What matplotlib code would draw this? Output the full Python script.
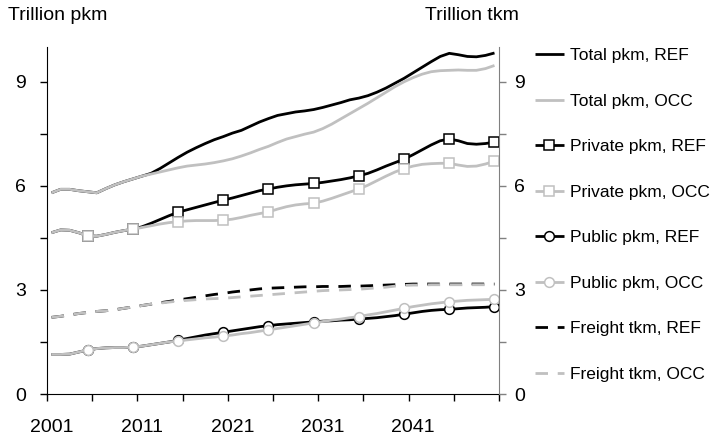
import numpy as np
import matplotlib
matplotlib.use("Agg")
import matplotlib.pyplot as plt
from matplotlib.ticker import MultipleLocator, FixedLocator

plt.rcParams["font.family"] = ["Liberation Sans", "DejaVu Sans"]

# =========================
# Data
# =========================
years = list(range(2001, 2051))

total_ref = [5.80, 5.90, 5.90, 5.86, 5.83, 5.80, 5.92, 6.03, 6.12, 6.20,
             6.28, 6.36, 6.50, 6.66, 6.82, 6.97, 7.10, 7.22, 7.33, 7.42,
             7.52, 7.60, 7.72, 7.84, 7.94, 8.03, 8.08, 8.13, 8.16, 8.20,
             8.26, 8.33, 8.40, 8.48, 8.53, 8.60, 8.70, 8.82, 8.96, 9.10,
             9.26, 9.42, 9.58, 9.73, 9.82, 9.78, 9.73, 9.72, 9.76, 9.83]
total_occ = [5.80, 5.90, 5.90, 5.86, 5.83, 5.80, 5.92, 6.03, 6.12, 6.20,
             6.28, 6.34, 6.40, 6.46, 6.52, 6.57, 6.60, 6.63, 6.67, 6.72,
             6.78, 6.86, 6.95, 7.05, 7.14, 7.25, 7.35, 7.42, 7.49, 7.55,
             7.65, 7.78, 7.93, 8.08, 8.23, 8.38, 8.54, 8.70, 8.86, 9.00,
             9.12, 9.22, 9.29, 9.32, 9.33, 9.34, 9.33, 9.33, 9.38, 9.47]

private_ref = [4.65, 4.73, 4.72, 4.65, 4.56, 4.55, 4.60, 4.66, 4.71, 4.75,
               4.82, 4.92, 5.03, 5.14, 5.24, 5.31, 5.38, 5.45, 5.52, 5.59,
               5.65, 5.72, 5.79, 5.86, 5.91, 5.96, 6.00, 6.03, 6.05, 6.07,
               6.10, 6.14, 6.18, 6.23, 6.29, 6.36, 6.46, 6.57, 6.67, 6.77,
               6.90, 7.04, 7.18, 7.30, 7.35, 7.30, 7.22, 7.20, 7.22, 7.26]
private_occ = [4.65, 4.73, 4.72, 4.65, 4.56, 4.55, 4.60, 4.66, 4.71, 4.75,
               4.80, 4.85, 4.90, 4.94, 4.97, 4.99, 5.00, 5.00, 5.00, 5.01,
               5.04, 5.09, 5.15, 5.20, 5.25, 5.33, 5.40, 5.45, 5.48, 5.50,
               5.56, 5.64, 5.73, 5.82, 5.91, 6.02, 6.15, 6.28, 6.40, 6.50,
               6.57, 6.62, 6.64, 6.65, 6.65, 6.60, 6.56, 6.57, 6.63, 6.71]

public_ref = [1.14, 1.14, 1.15, 1.21, 1.27, 1.31, 1.33, 1.34, 1.34, 1.35,
              1.38, 1.42, 1.46, 1.50, 1.55, 1.60, 1.65, 1.70, 1.74, 1.78,
              1.82, 1.86, 1.90, 1.94, 1.97, 2.00, 2.02, 2.04, 2.06, 2.08,
              2.10, 2.11, 2.13, 2.14, 2.16, 2.18, 2.20, 2.23, 2.26, 2.30,
              2.34, 2.38, 2.41, 2.43, 2.44, 2.46, 2.48, 2.49, 2.50, 2.52]
public_occ = [1.14, 1.14, 1.15, 1.21, 1.27, 1.31, 1.33, 1.34, 1.34, 1.35,
              1.38, 1.42, 1.46, 1.50, 1.53, 1.56, 1.59, 1.62, 1.64, 1.67,
              1.70, 1.74, 1.77, 1.81, 1.85, 1.89, 1.93, 1.97, 2.01, 2.05,
              2.09, 2.13, 2.16, 2.20, 2.23, 2.28, 2.32, 2.37, 2.42, 2.47,
              2.52, 2.56, 2.60, 2.63, 2.66, 2.68, 2.70, 2.71, 2.72, 2.73]

freight_ref = [2.21, 2.24, 2.28, 2.32, 2.35, 2.38, 2.40, 2.43, 2.47, 2.51,
               2.55, 2.59, 2.63, 2.67, 2.71, 2.75, 2.79, 2.83, 2.87, 2.90,
               2.94, 2.97, 3.00, 3.03, 3.05, 3.06, 3.07, 3.08, 3.09, 3.09,
               3.10, 3.10, 3.10, 3.11, 3.11, 3.12, 3.13, 3.14, 3.15, 3.16,
               3.17, 3.17, 3.17, 3.17, 3.17, 3.17, 3.17, 3.17, 3.17, 3.17]
freight_occ = [2.21, 2.24, 2.28, 2.32, 2.35, 2.38, 2.40, 2.43, 2.47, 2.51,
               2.55, 2.59, 2.62, 2.65, 2.68, 2.70, 2.72, 2.74, 2.75, 2.76,
               2.78, 2.80, 2.82, 2.84, 2.86, 2.88, 2.90, 2.92, 2.94, 2.96,
               2.98, 2.99, 3.00, 3.01, 3.02, 3.04, 3.06, 3.08, 3.11, 3.13,
               3.14, 3.14, 3.15, 3.15, 3.15, 3.15, 3.15, 3.15, 3.15, 3.15]

labels = ["Total pkm, REF", "Total pkm, OCC",
          "Private pkm, REF", "Private pkm, OCC",
          "Public pkm, REF", "Public pkm, OCC",
          "Freight tkm, REF", "Freight tkm, OCC"]

x_labels = ["2001", "2011", "2021", "2031", "2041"]

# =========================
# Style
# =========================
BLACK = "#000000"
GREY = "#c0c0c0"
LW = 2.0
FS = 14
MARK_EVERY = slice(4, None, 5)
DASH = (0, (4.5, 3.5))

fig = plt.figure(figsize=(7.18, 4.36), dpi=100)
ax = fig.add_axes([0.0655, 0.0963, 0.6295, 0.7957])

series = [
    (total_ref, BLACK, "-", None),
    (total_occ, GREY, "-", None),
    (private_ref, BLACK, "-", "s"),
    (private_occ, GREY, "-", "s"),
    (public_ref, BLACK, "-", "o"),
    (public_occ, GREY, "-", "o"),
    (freight_ref, BLACK, DASH, None),
    (freight_occ, GREY, DASH, None),
]

for (vals, color, ls, mk), lab in zip(series, labels):
    kw = {}
    if mk is not None:
        kw = dict(marker=mk, markersize=7, markerfacecolor="white",
                  markeredgecolor=color, markeredgewidth=1.1,
                  markevery=MARK_EVERY)
    ax.plot(years, vals, color=color, lw=LW, ls=ls, label=lab,
            solid_capstyle="butt", dash_capstyle="butt", **kw)

ax.set_xlim(2000.5, 2050.5)
ax.set_ylim(0, 10)

# x axis: labels at category centres, tick marks between categories
ax.xaxis.set_major_locator(FixedLocator([int(s) for s in x_labels]))
ax.set_xticklabels(x_labels)
ax.xaxis.set_minor_locator(MultipleLocator(5, offset=0.5))
ax.tick_params(axis="x", which="major", length=0, pad=18, labelsize=FS)
ax.tick_params(axis="x", which="minor", length=5, width=1, direction="out")

ax.yaxis.set_major_locator(MultipleLocator(3))
ax.yaxis.set_minor_locator(MultipleLocator(1.5))
ax.tick_params(axis="y", which="major", length=5, width=1, pad=10, labelsize=FS)
ax.tick_params(axis="y", which="minor", length=5, width=1)

ax2 = ax.twinx()
ax2.set_ylim(0, 10)
ax2.yaxis.set_major_locator(MultipleLocator(3))
ax2.yaxis.set_minor_locator(MultipleLocator(1.5))
ax2.tick_params(axis="y", which="major", length=5, width=1, pad=6,
                labelsize=FS, color="#808080")
ax2.tick_params(axis="y", which="minor", length=5, width=1, color="#808080")

for a in (ax, ax2):
    a.spines["top"].set_visible(False)
ax.spines["right"].set_visible(False)
ax2.spines["left"].set_visible(False)
ax2.spines["bottom"].set_visible(False)
ax2.spines["right"].set_color("#808080")

fig.text(0.011, 0.965, "Trillion pkm", fontsize=FS, va="center", ha="left")
fig.text(0.592, 0.965, "Trillion tkm", fontsize=FS, va="center", ha="left")

handles, labs = ax.get_legend_handles_labels()
leg = fig.legend(handles, labs, loc="upper left",
                 bbox_to_anchor=(0.745, 0.89), frameon=False, fontsize=12.5,
                 handlelength=1.65, handletextpad=0.35, labelspacing=1.75,
                 numpoints=1, borderaxespad=0, borderpad=0)

fig.savefig("out.png", dpi=100)
